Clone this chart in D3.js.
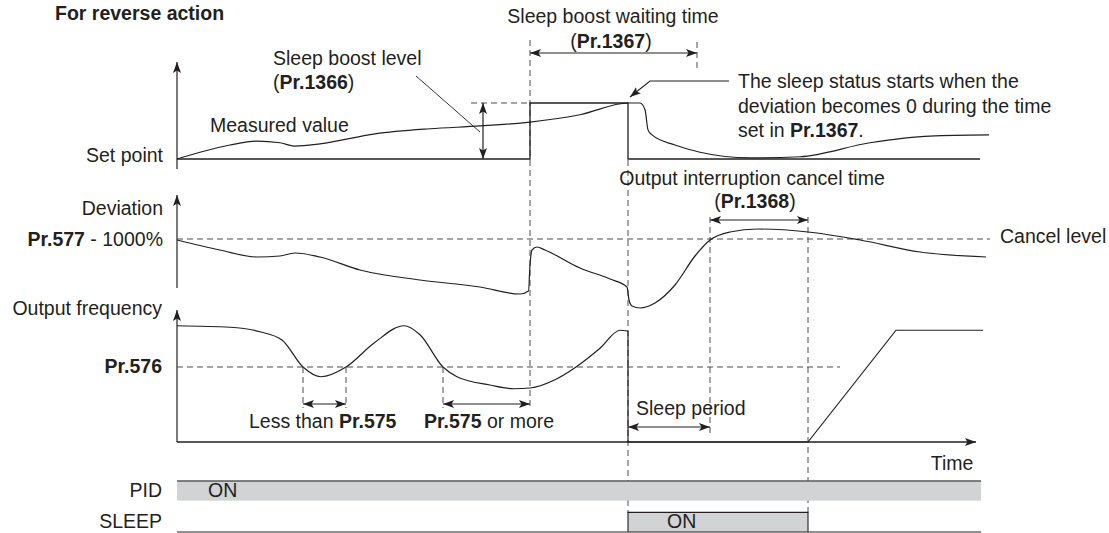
<!DOCTYPE html>
<html>
<head>
<meta charset="utf-8">
<script src="https://cdn.jsdelivr.net/npm/d3@7/dist/d3.min.js"></script>
<style>
  html, body { margin: 0; padding: 0; background: #fff; }
  svg { display: block; }
  text { font-family: "Liberation Sans", Arial, sans-serif; fill: #231f20; }
</style>
</head>
<body>
<svg id="chart" width="1109" height="533"></svg>
<script>
// Time instants (s) of the events on the common time axis
const events = {
  boostStart: 35.3,      // set point boosted
  sleepStart: 45.1,      // sleep status starts
  boostWaitEnd: 52.0,    // end of Pr.1367
  cancelStart: 53.3,     // deviation reaches cancel level
  cancelEnd: 63.1,       // end of Pr.1368, restart
  lineEnd: 80.3
};

// Set point (0 = set point, 1 = boosted level)
const setPointSteps = [
  [0, 0], [35.3, 0], [35.3, 1], [45.1, 1], [45.1, 0], [80.3, 0]
];

// Measured value (relative to set point, 1 = sleep boost level)
const measuredValue = [
  [0, 0], [2.3, 0.12], [5.3, 0.25], [8, 0.32], [10.3, 0.29], [11.8, 0.23],
  [14.3, 0.27], [19.8, 0.45], [25.3, 0.54], [30.3, 0.59], [35.3, 0.66],
  [40.3, 0.79], [45.1, 1.0], [46.3, 1.0], [46.8, 0.88], [47.1, 0.52],
  [47.5, 0.43], [49.8, 0.25], [52.3, 0.12], [57.3, 0.02], [62.3, 0.04],
  [69.3, 0.29], [75.3, 0.41], [81.2, 0.43]
];

// Deviation (0 = cancel level)
const deviation = [
  [0, -0.02], [4.3, -0.22], [8, -0.36], [10.3, -0.34], [11.8, -0.28],
  [14.3, -0.36], [18.3, -0.62], [24.3, -0.82], [30.3, -0.96], [34.3, -1.1],
  [35.15, -1.04], [35.3, -0.52], [35.5, -0.22], [36, -0.16], [36.8, -0.22],
  [40.3, -0.58], [43.3, -0.8], [45.0, -0.96], [45.2, -1.22], [45.5, -1.34],
  [46.3, -1.38], [47.8, -1.28], [49.8, -0.92], [51.8, -0.34], [53.3, -0.02],
  [55.3, 0.14], [58.1, 0.2], [63.1, 0.14], [68.3, -0.02], [74.3, -0.26],
  [80.9, -0.36]
];

// Output frequency (1 = Pr.576 level) while PID runs
const freqRunning = [
  [0, 1.55], [5.3, 1.53], [8.3, 1.47], [10.5, 1.36], [12.6, 1.0],
  [14.4, 0.87], [16.9, 1.0], [19.8, 1.33], [22.7, 1.55], [24.3, 1.43],
  [26.6, 1.0], [28, 0.87], [31.3, 0.76], [33.7, 0.71], [35.3, 0.72],
  [37.8, 0.83], [39.9, 1.0], [42.3, 1.25], [44.3, 1.49], [45.1, 1.48]
];
// Output frequency from sleep through restart
const freqSleep = [
  [45.1, 1.48], [45.1, 0], [63.1, 0], [71.9, 1.49], [80.6, 1.49]
];

// Frequency dips below Pr.576 and their durations
const dipShort = [12.6, 16.9];
const dipLong = [26.6, 35.3];

// Signal rows
const signals = ["PID", "SLEEP"];
const signalOn = { PID: [0, 80.4], SLEEP: [45.1, 63.1] };

const svg = d3.select("#chart");
const ink = "#231f20";
const dashCol = "#4d4d4f";
const FS = 19.5;

const x = d3.scaleLinear().domain([0, 80]).range([177, 977]);
const yA = d3.scaleLinear().domain([0, 1]).range([159, 103]);
const yB = d3.scaleLinear().domain([0, -1]).range([239, 289]);
const yC = d3.scaleLinear().domain([0, 1]).range([442, 367]);
const ySig = d3.scaleBand().domain(signals).range([481, 532]).paddingInner(0.375);

// Arrowhead marker
const defs = svg.append("defs");
defs.append("marker")
  .attr("id", "ah").attr("markerUnits", "userSpaceOnUse")
  .attr("viewBox", "0 0 11 8").attr("refX", 11).attr("refY", 4)
  .attr("markerWidth", 11).attr("markerHeight", 8)
  .attr("orient", "auto-start-reverse")
  .append("path").attr("d", "M0,0 L11,4 L0,8 L2.5,4 Z").attr("fill", ink);

function line(g, x1, y1, x2, y2, opt = {}) {
  const l = g.append("line").attr("x1", x1).attr("y1", y1).attr("x2", x2).attr("y2", y2)
    .attr("stroke", opt.color || ink).attr("stroke-width", opt.w || 1.2);
  if (opt.dash) l.attr("stroke-dasharray", opt.dash);
  if (opt.end) l.attr("marker-end", "url(#ah)");
  if (opt.start) l.attr("marker-start", "url(#ah)");
  return l;
}
function dashed(g, x1, y1, x2, y2) {
  return line(g, x1, y1, x2, y2, { color: dashCol, w: 1, dash: "6,4" });
}
function label(g, tx, ty, parts, opt = {}) {
  const t = g.append("text").attr("x", tx).attr("y", ty)
    .attr("font-size", opt.size || FS).attr("dominant-baseline", "middle")
    .attr("text-anchor", opt.anchor || "start");
  parts.forEach(p => {
    const s = t.append("tspan").text(p.t !== undefined ? p.t : p);
    if (p.b) s.attr("font-weight", "bold");
  });
  return t;
}

const g = svg.append("g");

// Title
label(g, 55, 15, [{ t: "For reverse action", b: true }], { size: 19.5 });

// ---- Vertical event markers ----
dashed(g, x(events.boostStart), 40, x(events.boostStart), 406);
dashed(g, x(events.boostWaitEnd), 42, x(events.boostWaitEnd), 70);
dashed(g, x(events.sleepStart), 160, x(events.sleepStart), 513);
dashed(g, x(events.cancelStart), 217, x(events.cancelStart), 437);
dashed(g, x(events.cancelEnd), 217, x(events.cancelEnd), 513);

// ---- Panel A: set point / measured value ----
line(g, x(0), 169, x(0), 62, { end: true });
label(g, 163, 157, ["Set point"], { anchor: "end" });
dashed(g, 471, yA(1), x(events.boostStart), yA(1));

const lineGen = (ys) => d3.line().x(d => x(d[0])).y(d => ys(d[1]));
g.append("path").datum(setPointSteps)
  .attr("d", lineGen(yA)).attr("fill", "none").attr("stroke", ink).attr("stroke-width", 1.3);
g.append("path").datum(measuredValue)
  .attr("d", lineGen(yA).curve(d3.curveMonotoneX))
  .attr("fill", "none").attr("stroke", ink).attr("stroke-width", 1.2);

label(g, 210, 127, ["Measured value"]);
label(g, 273, 60, ["Sleep boost level"]);
label(g, 273, 84, ["(", { t: "Pr.1366", b: true }, ")"]);
line(g, 416, 76, 480, 132, { w: 0.9 });
line(g, 483, yA(0), 483, yA(1), { start: true, end: true });

// Sleep boost waiting time
label(g, 613, 18, ["Sleep boost waiting time"], { anchor: "middle" });
label(g, 611, 43, ["(", { t: "Pr.1367", b: true }, ")"], { anchor: "middle" });
line(g, x(events.boostStart), 53, x(events.boostWaitEnd), 53, { start: true, end: true });

// Sleep start callout
g.append("path").attr("d", `M729,81 H650 L${x(events.sleepStart) + 2},97`)
  .attr("fill", "none").attr("stroke", ink).attr("stroke-width", 1.1).attr("marker-end", "url(#ah)");
label(g, 738, 83, ["The sleep status starts when the"]);
label(g, 738, 108, ["deviation becomes 0 during the time"]);
label(g, 738, 132, ["set in ", { t: "Pr.1367", b: true }, "."]);

// ---- Panel B: deviation ----
line(g, x(0), 288, x(0), 195, { end: true });
label(g, 163, 210, ["Deviation"], { anchor: "end" });
label(g, 163, 241, [{ t: "Pr.577", b: true }, " - 1000%"], { anchor: "end" });
dashed(g, x(0), yB(0), 990, yB(0));
label(g, 1000, 238, ["Cancel level"]);
g.append("path").datum(deviation)
  .attr("d", lineGen(yB).curve(d3.curveMonotoneX))
  .attr("fill", "none").attr("stroke", ink).attr("stroke-width", 1.2);

label(g, 752, 180, ["Output interruption cancel time"], { anchor: "middle" });
label(g, 755, 203, ["(", { t: "Pr.1368", b: true }, ")"], { anchor: "middle" });
line(g, x(events.cancelStart), 220, x(events.cancelEnd), 220, { start: true, end: true });

// ---- Panel C: output frequency ----
line(g, x(0), yC(0), x(0), 310, { end: true });
line(g, x(0), yC(0), 976, yC(0), { end: true, w: 1.3 });
label(g, 162, 310, ["Output frequency"], { anchor: "end" });
label(g, 162, 368, [{ t: "Pr.576", b: true }], { anchor: "end" });
dashed(g, x(0), yC(1), 840, yC(1));
label(g, 952, 465, ["Time"], { anchor: "middle" });

g.append("path").datum(freqRunning)
  .attr("d", lineGen(yC).curve(d3.curveMonotoneX))
  .attr("fill", "none").attr("stroke", ink).attr("stroke-width", 1.2);
g.append("path").datum(freqSleep)
  .attr("d", lineGen(yC)).attr("fill", "none").attr("stroke", ink).attr("stroke-width", 1.2);

[dipShort[0], dipShort[1], dipLong[0]].forEach(t => dashed(g, x(t), yC(1), x(t), 408));
line(g, x(dipShort[0]), 404, x(dipShort[1]), 404, { start: true, end: true });
line(g, x(dipLong[0]), 404, x(dipLong[1]), 404, { start: true, end: true });
label(g, 249, 423, ["Less than ", { t: "Pr.575", b: true }]);
label(g, 424, 423, [{ t: "Pr.575", b: true }, " or more"]);

label(g, 636, 410, ["Sleep period"]);
line(g, x(events.sleepStart), 427, x(events.cancelStart), 427, { start: true, end: true });

// ---- Signal rows ----
signals.forEach(s => {
  const top = ySig(s), bh = ySig.bandwidth(), on = signalOn[s];
  label(g, 162, top + bh / 2 + 1, [s], { anchor: "end" });
  g.append("rect").attr("x", x(on[0])).attr("y", top)
    .attr("width", x(on[1]) - x(on[0])).attr("height", bh).attr("fill", "#d1d3d4");
  if (s !== "PID") line(g, x(0), top + bh, x(80.4), top + bh, { w: 1 });
  g.append("path")
    .attr("d", s === "PID"
      ? `M${x(on[0])},${top}H${x(on[1])}`
      : `M${x(on[0])},${top + bh}V${top}H${x(on[1])}V${top + bh}`)
    .attr("fill", "none").attr("stroke", s === "PID" ? "#58595b" : ink)
    .attr("stroke-width", s === "PID" ? 1.6 : 1.1);
  label(g, x(on[0]) + (s === "PID" ? 31 : 39), top + bh / 2 + 1, ["ON"]);
});
</script>
</body>
</html>
